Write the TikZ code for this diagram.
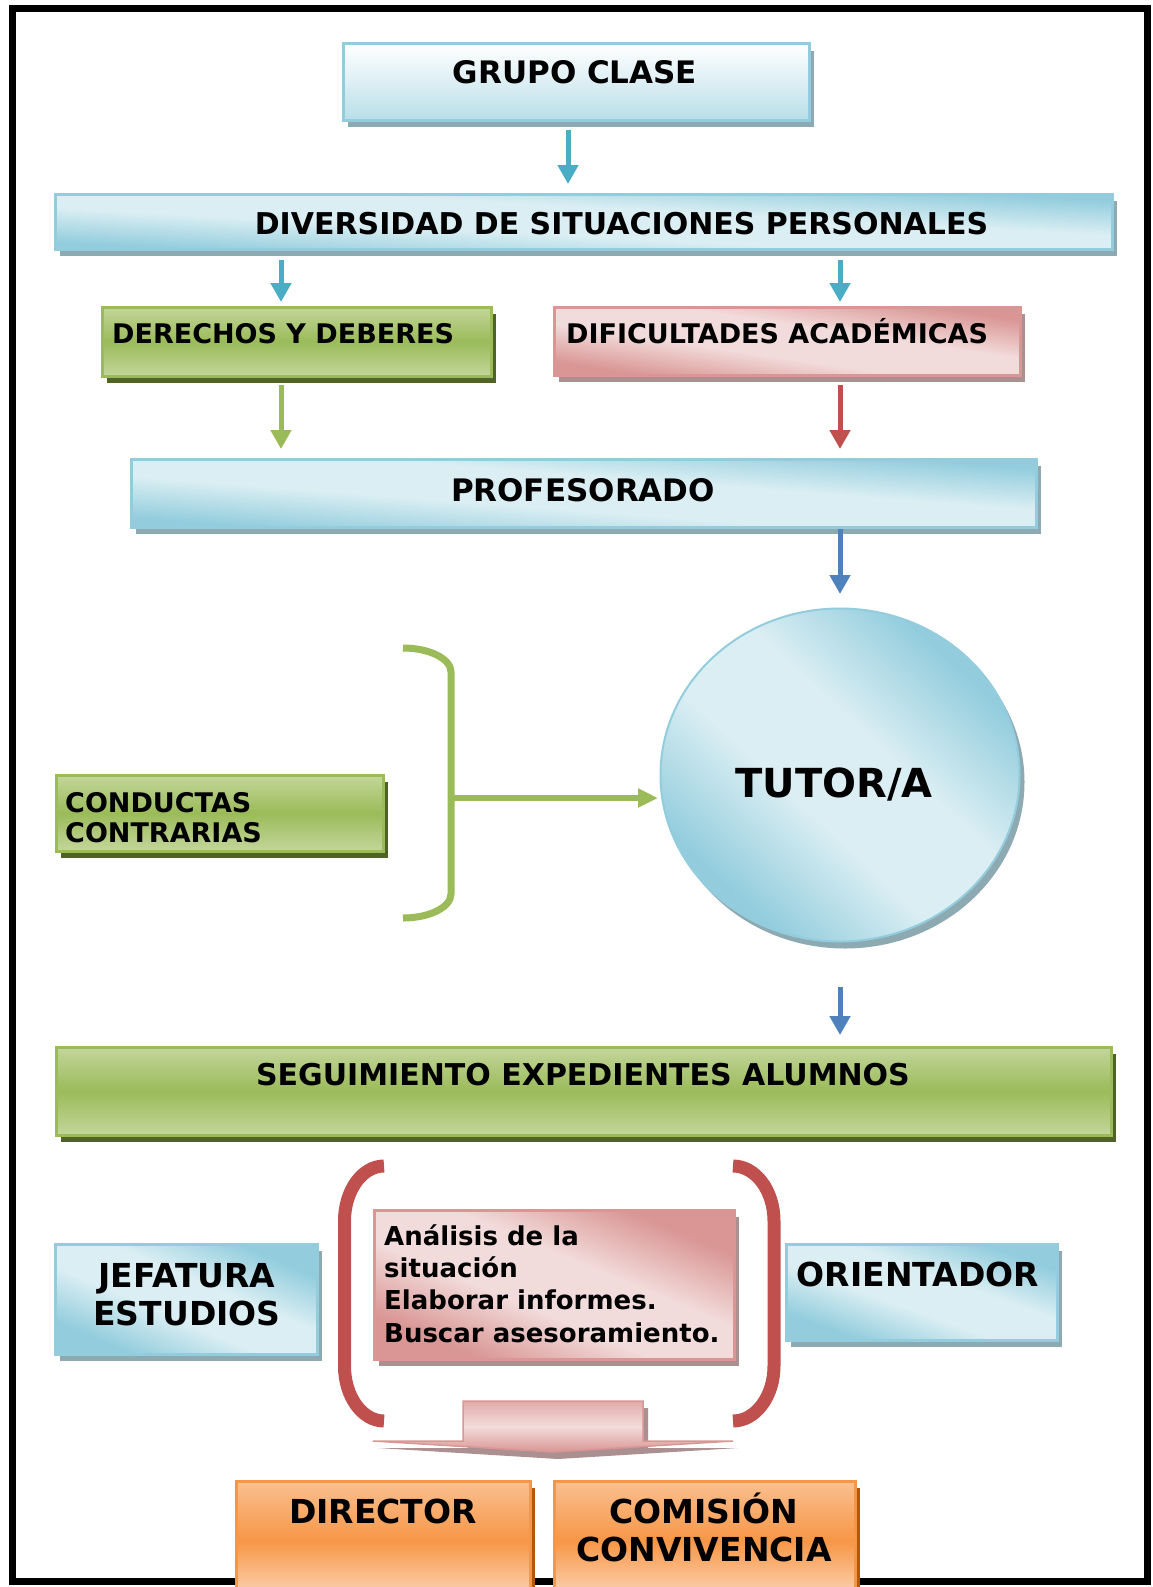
\documentclass[tikz,border=0pt]{standalone}
\usepackage{fontspec}
\setmainfont{DejaVu Sans}
\usepackage{tikz}
\usetikzlibrary{calc}
\usetikzlibrary{shapes}
\usetikzlibrary{shadows}
\usetikzlibrary{arrows.meta}

\definecolor{azul}{HTML}{93CDDD}
\definecolor{azulclaro}{HTML}{DAEEF3}
\definecolor{azulsombra}{HTML}{8DA9B2}
\definecolor{flecha}{HTML}{4BACC6}
\definecolor{flechaazul}{HTML}{4F81BD}
\definecolor{verde}{HTML}{9BBB59}
\definecolor{verdeclaro}{HTML}{C3D69B}
\definecolor{verdesombra}{HTML}{4F6228}
\definecolor{rojo}{HTML}{C0504D}
\definecolor{rosa}{HTML}{D99694}
\definecolor{rosaclaro}{HTML}{F2DCDB}
\definecolor{rosasombra}{HTML}{AA9090}
\definecolor{naranja}{HTML}{F79646}
\definecolor{naranjaclaro}{HTML}{FAC090}
\definecolor{naranjasombra}{HTML}{B65708}

\pgfdeclareverticalshading{brilloazul}{100bp}{color(0bp)=(azul); color(27bp)=(azul); color(43bp)=(azulclaro); color(57bp)=(azulclaro); color(73bp)=(azul); color(100bp)=(azul)}
\pgfdeclareverticalshading{brillorosa}{100bp}{color(0bp)=(rosa); color(27bp)=(rosa); color(43bp)=(rosaclaro); color(57bp)=(rosaclaro); color(73bp)=(rosa); color(100bp)=(rosa)}

\tikzset{
	txt/.style 2 args={font=\fontsize{#1}{#2}\selectfont\bfseries, inner sep=0pt},
	sombra/.style={drop shadow={shadow xshift=5pt, shadow yshift=-7pt, opacity=1, fill=#1}},
	cajagrupo/.style={draw=azul, line width=3pt, top color=white, bottom color=azul!65!white, sombra=azulsombra},
	cajaazul/.style={draw=azul, line width=3pt, shading=brilloazul, shading angle=#1, sombra=azulsombra},
	cajaverde/.style={draw=verde, line width=3pt, top color=verdeclaro, bottom color=verdeclaro, middle color=verde, sombra=verdesombra},
	cajarosa/.style={draw=rosa, line width=3pt, shading=brillorosa, shading angle=#1, sombra=rosasombra},
	cajanaranja/.style={draw=naranja, line width=3pt, top color=naranjaclaro, bottom color=naranjaclaro!60!white, middle color=naranja, sombra=naranjasombra},
	flechita/.style={draw=#1, line width=5pt, -{Triangle[width=20pt,length=19pt]}},
}

\begin{document}
\begin{tikzpicture}[x=1pt,y=-1pt]
	\useasboundingbox (0,0) rectangle (1152,1587);
	\fill[white] (0,0) rectangle (1152,1587);
	\draw[line width=7pt] (12,8.5) rectangle (1147,1581);

	\node[cajagrupo, minimum width=466pt, minimum height=76pt] (grupo) at (576,82) {};
	\node[cajaazul=-3.1, minimum width=1057pt, minimum height=55pt] (divers) at (583.5,221.5) {};
	\node[cajaverde, minimum width=389pt, minimum height=69pt] (derechos) at (296.5,341.5) {};
	\node[cajarosa=-8.5, minimum width=466pt, minimum height=68pt] (dific) at (787,341) {};
	\node[cajaazul=-4.4, minimum width=905pt, minimum height=68pt] (profes) at (583.5,493) {};
	\node[cajaazul=-43, ellipse, line width=2pt, minimum width=359pt, minimum height=333pt] (tutor) at (840,775) {};
	\node[cajaverde, minimum width=327pt, minimum height=76pt] (conductas) at (219.5,813) {};
	\node[cajaverde, minimum width=1055pt, minimum height=88pt] (seguim) at (583.5,1091) {};
	\node[cajaazul=-23, minimum width=262pt, minimum height=110pt] (jefatura) at (186,1299) {};
	\node[cajarosa=-22.6, minimum width=360pt, minimum height=149pt] (analisis) at (554,1284.5) {};
	\node[cajaazul=-19.7, minimum width=271pt, minimum height=96pt] (orientador) at (921.5,1292) {};
	\node[cajanaranja, minimum width=294pt, minimum height=120pt] (director) at (383,1541) {};
	\node[cajanaranja, minimum width=301pt, minimum height=120pt] (comision) at (704.5,1541) {};

	\node[txt={31}{37}, anchor=base] (grupoT) at (575,83) {GRUPO CLASE};
	\node[txt={30}{36}, anchor=base] (diversT) at (621.5,234) {DIVERSIDAD DE SITUACIONES PERSONALES};
	\node[txt={27}{30}, anchor=base west] (derechosT) at (112,343) {DERECHOS Y DEBERES};
	\node[txt={27}{30}, anchor=base west] (dificT) at (566,343) {DIFICULTADES ACADÉMICAS};
	\node[txt={31}{37}, anchor=base] (profesT) at (583,501) {PROFESORADO};
	\node[txt={40}{48}, anchor=base] (tutorT) at (834,797) {TUTOR/A};
	\node[txt={27}{30}, anchor=base west, align=left] (conductasT) at (65,842) {CONDUCTAS\\CONTRARIAS};
	\node[txt={30}{36}, anchor=base] (seguimT) at (583,1085) {SEGUIMIENTO EXPEDIENTES ALUMNOS};
	\node[txt={33}{38}, anchor=base, align=center] (jefaturaT) at (187,1325) {JEFATURA\\ESTUDIOS};
	\node[txt={26}{32.4}, anchor=base west, align=left] (analisisT) at (384,1342.3) {Análisis de la\\situación\\Elaborar informes.\\Buscar asesoramiento.};
	\node[txt={33}{38}, anchor=base] (orientadorT) at (918,1286) {ORIENTADOR};
	\node[txt={33}{38}, anchor=base] (directorT) at (383,1523) {DIRECTOR};
	\node[txt={33}{38.5}, anchor=base, align=center] (comisionT) at (704,1561.7) {COMISIÓN\\CONVIVENCIA};

	\coordinate (medio) at (568,0);
	\coordinate (izq) at (281,0);
	\draw[flechita=flecha, shorten <=8.5pt, shorten >=8.5pt] (grupo.south -| medio) -- (divers.north -| medio);
	\draw[flechita=flecha, shorten <=9.5pt, shorten >=3.5pt] (divers.south -| izq) -- (derechos.north -| izq);
	\draw[flechita=flecha, shorten <=9.5pt, shorten >=3.5pt] (divers.south -| tutor) -- (dific.north -| tutor);
	\draw[flechita=verde, shorten <=7.5pt, shorten >=8.5pt] (derechos.south -| izq) -- (profes.north -| izq);
	\draw[flechita=rojo, shorten <=8.5pt, shorten >=8.5pt] (dific.south -| tutor) -- (profes.north -| tutor);
	\draw[flechita=flechaazul, shorten >=13.5pt] (profes.south -| tutor) -- (tutor.north);
	\draw[flechita=flechaazul, shorten <=44.5pt, shorten >=10.5pt] (tutor.south) -- (seguim.north -| tutor);

	\draw[verde, line width=7pt] (403,648) .. controls (429.5,648) and (451,658.8) .. (451,672) -- (451,894) .. controls (451,907.2) and (429.5,918) .. (403,918);
	\coordinate (llave) at (451,798);
	\draw[verde, line width=6pt, -{Triangle[width=18pt,length=20pt]}, shorten >=1.5pt] (llave) -- (llave -| tutor.west);

	\draw[rojo, line width=13pt] (384,1166) .. controls (362.2,1166) and (344.5,1190.6) .. (344.5,1221) -- (344.5,1366) .. controls (344.5,1396.4) and (362.2,1421) .. (384,1421);
	\draw[rojo, line width=13pt] (733,1166) .. controls (755.6,1166) and (774,1190.6) .. (774,1221) -- (774,1366) .. controls (774,1396.4) and (755.6,1421) .. (733,1421);
	\draw[draw=rosa, line width=1.5pt, top color=rosa!80!white, bottom color=rosa, middle color=rosaclaro, sombra=rosasombra] (463,1401) -- (643,1401) -- (643,1441) -- (733,1441) -- (553,1452) -- (373,1441) -- (463,1441) -- cycle;
\end{tikzpicture}
\end{document}
